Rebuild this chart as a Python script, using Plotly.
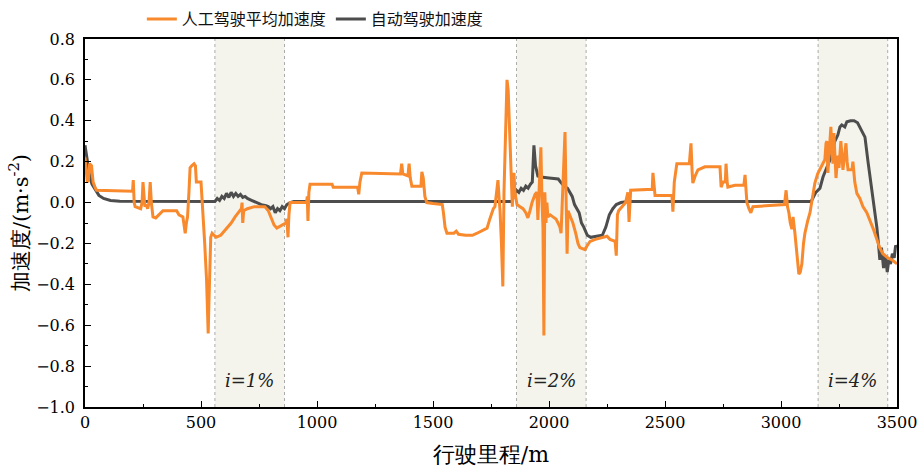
import plotly.graph_objects as go

# ---------------- data ----------------
auto_x = [0, 10, 20, 30, 45, 60, 80, 110, 150, 250, 560, 570, 580, 590, 600, 610, 620, 630, 640, 650,
          660, 670, 680, 690, 700, 720, 740, 760, 780, 790, 800, 810, 820, 830, 840, 850, 860, 870, 885, 900,
          1840, 1850, 1860, 1870, 1880, 1890, 1900, 1910, 1920, 1928, 1935, 1942, 1952, 1965, 2000, 2040,
          2050, 2065, 2080, 2090, 2100, 2110, 2120, 2130, 2140, 2150, 2165, 2180, 2230, 2245, 2260, 2275,
          2290, 2310, 2340, 3130, 3150, 3168, 3181, 3202, 3215, 3232, 3245, 3254, 3262, 3275, 3284, 3300,
          3315, 3330, 3340, 3350, 3362, 3375, 3385, 3396, 3405, 3413, 3420, 3426, 3433, 3442, 3450, 3458,
          3465, 3472, 3480, 3488, 3494, 3500]
auto_y = [0.28, 0.20, 0.13, 0.09, 0.06, 0.035, 0.02, 0.01, 0.006, 0.005, 0.005, 0.02, 0.01, 0.03, 0.02,
          0.045, 0.025, 0.05, 0.03, 0.045, 0.03, 0.04, 0.025, 0.03, 0.02, 0.01, 0.0, -0.01, -0.015, -0.02,
          -0.03, -0.02, -0.05, -0.03, -0.04, -0.02, -0.03, -0.01, 0.0, 0.005,
          0.005, 0.04, 0.06, 0.05, 0.07, 0.06, 0.08, 0.07, 0.09, 0.10, 0.28, 0.18, 0.13, 0.125, 0.12, 0.115,
          0.10, 0.08, 0.07, 0.05, 0.03, -0.01, -0.03, -0.05, -0.10, -0.12, -0.16, -0.17, -0.16, -0.12, -0.06,
          -0.03, -0.01, 0.0, 0.005, 0.005, 0.05, 0.07, 0.125, 0.19, 0.22, 0.30, 0.33, 0.37, 0.38, 0.37, 0.395,
          0.40, 0.40, 0.39, 0.37, 0.35, 0.32, 0.20, 0.12, 0.03, -0.05, -0.12, -0.2, -0.28, -0.22, -0.32,
          -0.26, -0.34, -0.28, -0.30, -0.25, -0.27, -0.21, -0.22]

manual_x = [0, 5, 10, 15, 20, 28, 35, 45, 50, 205, 208, 212, 216, 240, 246, 250, 254, 258, 264, 270, 276,
            281, 286, 293, 305, 320, 336, 395, 405, 422, 428, 432, 437, 442, 448, 453, 460, 470, 476, 480,
            500, 505, 509, 516, 524, 528, 531, 534, 538, 542, 548, 565, 585, 600, 617, 630, 647, 660, 668,
            674, 677, 680, 684, 700, 730, 775, 790, 805, 815, 827, 845, 865, 870, 875, 879, 884, 895, 955,
            958, 961, 965, 970, 1065, 1070, 1175, 1180, 1185, 1193, 1360, 1365, 1370, 1380, 1392, 1397, 1402,
            1409, 1448, 1452, 1458, 1465, 1473, 1500, 1540, 1545, 1552, 1560, 1590, 1600, 1610, 1640, 1670,
            1690, 1710, 1733, 1745, 1760, 1767, 1775, 1780, 1785, 1789, 1795, 1801, 1806, 1812, 1816, 1819,
            1824, 1830, 1836, 1842, 1846, 1849, 1853, 1862, 1875, 1888, 1900, 1909, 1918, 1927, 1940, 1948,
            1952, 1958, 1965, 1970, 1974, 1978, 1982, 1987, 1991, 1995, 2005, 2017, 2030, 2039, 2047, 2052,
            2056, 2062, 2069, 2074, 2078, 2082, 2090, 2103, 2115, 2125, 2133, 2155, 2165, 2177, 2200, 2233,
            2250, 2263, 2285, 2290, 2295, 2300, 2330, 2340, 2345, 2352, 2445, 2448, 2453, 2457, 2530, 2534,
            2540, 2551, 2605, 2612, 2617, 2620, 2630, 2642, 2672, 2737, 2742, 2750, 2760, 2763, 2768, 2771,
            2802, 2840, 2845, 2850, 2853, 2862, 2870, 2879, 2950, 3015, 3022, 3028, 3034, 3040, 3047, 3052,
            3060, 3070, 3077, 3083, 3090, 3097, 3103, 3115, 3125, 3135, 3146, 3158, 3168, 3180, 3189, 3194,
            3198, 3202, 3208, 3215, 3219, 3224, 3228, 3232, 3237, 3245, 3250, 3258, 3263, 3267, 3273, 3280,
            3285, 3289, 3306, 3310, 3318, 3327, 3340, 3353, 3370, 3383, 3398, 3413, 3425, 3439, 3460, 3478,
            3500]
manual_y = [0.22, 0.15, 0.10, 0.11, 0.19, 0.18, 0.10, 0.07, 0.06, 0.055, 0.11, 0.0, -0.02, -0.03, 0.0,
            0.10, 0.0, -0.02, -0.01, -0.03, 0.0, 0.10, 0.0, -0.07, -0.075, -0.06, -0.04, -0.04, -0.06,
            -0.07, -0.11, -0.15, -0.10, -0.07, 0.05, 0.17, 0.18, 0.19, 0.18, 0.10, 0.10, 0.02, -0.07, -0.20,
            -0.38, -0.55, -0.64, -0.50, -0.30, -0.17, -0.15, -0.17, -0.16, -0.14, -0.12, -0.10, -0.07, -0.05,
            -0.04, -0.03, 0.0, -0.10, -0.04, -0.03, -0.02, -0.02, -0.04, -0.085, -0.11, -0.125, -0.115, -0.10,
            -0.08, -0.17, -0.06, 0.0, 0.0, 0.0, 0.03, -0.09, 0.05, 0.09, 0.09, 0.075, 0.075, 0.04, 0.10, 0.145,
            0.14, 0.19, 0.14, 0.135, 0.13, 0.19, 0.12, 0.08, 0.08, 0.15, 0.12, 0.03, 0.0, -0.005, -0.01,
            -0.05, -0.12, -0.15, -0.15, -0.14, -0.155, -0.16, -0.16, -0.15, -0.14, -0.125, -0.08, -0.03,
            -0.02, 0.05, 0.11, 0.02, -0.04, -0.20, -0.41, 0.05, 0.30, 0.55, 0.60, 0.55, 0.37, 0.10, -0.02,
            0.10, 0.145, 0.05, -0.01, -0.02, -0.03, -0.05, -0.075, -0.04, 0.0, 0.04, 0.05, -0.085, 0.10, 0.27,
            0.0, -0.12, -0.65, 0.05, -0.10, 0.0, -0.07, -0.06, -0.07, -0.08, -0.10, -0.12, -0.15, -0.04, 0.10,
            0.345, 0.0, -0.25, -0.04, -0.06, -0.10, -0.15, -0.20, -0.22, -0.23, -0.21, -0.19, -0.18, -0.17,
            -0.165, -0.18, -0.19, -0.26, -0.06, -0.04, 0.0, 0.05, -0.095, 0.06, 0.065, 0.145, 0.05, 0.035,
            0.035, -0.045, 0.10, 0.19, 0.19, 0.29, 0.15, 0.095, 0.13, 0.16, 0.175, 0.175, 0.075, 0.10, 0.10,
            0.19, 0.10, 0.076, 0.085, 0.085, 0.135, 0.07, 0.0, -0.03, -0.05, -0.02, -0.015, -0.01, 0.06,
            -0.02, -0.05, -0.10, -0.13, -0.07, -0.15, -0.25, -0.35, -0.34, -0.30, -0.20, -0.15, -0.09, -0.05,
            0.02, 0.095, 0.14, 0.16, 0.19, 0.21, 0.29, 0.30, 0.145, 0.25, 0.37, 0.26, 0.19, 0.34, 0.20, 0.12,
            0.23, 0.17, 0.30, 0.22, 0.16, 0.22, 0.29, 0.20, 0.16, 0.16, 0.20, 0.10, 0.045, 0.02, -0.02, -0.05,
            -0.085, -0.13, -0.18, -0.22, -0.25, -0.27, -0.28, -0.30]

band_starts = [560, 1860, 3160]
band_ends = [860, 2160, 3460]
band_labels = ["i=1%", "i=2%", "i=4%"]

x_ticks = [0, 500, 1000, 1500, 2000, 2500, 3000, 3500]
y_ticks = [-1.0, -0.8, -0.6, -0.4, -0.2, 0.0, 0.2, 0.4, 0.6, 0.8]

name_manual = "人工驾驶平均加速度"
name_auto = "自动驾驶加速度"

# ---------------- figure ----------------
SERIF = "DejaVu Serif"
fig = go.Figure()
fig.add_trace(go.Scatter(x=auto_x, y=auto_y, mode="lines", name=name_auto,
                         line=dict(color="#4D4D4D", width=3), legendrank=2))
fig.add_trace(go.Scatter(x=manual_x, y=manual_y, mode="lines", name=name_manual,
                         line=dict(color="#F8892C", width=3), legendrank=1))

shapes = []
for s, e in zip(band_starts, band_ends):
    shapes.append(dict(type="rect", xref="x", yref="paper", x0=s, x1=e, y0=0, y1=1,
                       fillcolor="#F4F4EC", line=dict(width=0), layer="below"))
    for v in (s, e):
        shapes.append(dict(type="line", xref="x", yref="paper", x0=v, x1=v, y0=0, y1=1,
                           line=dict(color="#ABABAB", width=1, dash="dot"), layer="below"))

annotations = []
for s, e, t in zip(band_starts, band_ends, band_labels):
    annotations.append(dict(x=(s + e) / 2, y=-0.87, xref="x", yref="y", text="<i>" + t + "</i>",
                            showarrow=False,
                            font=dict(family=SERIF, size=18, color="#222"),
                            xanchor="center", yanchor="middle"))

fig.update_layout(
    width=920, height=471,
    margin=dict(l=85, r=23, t=39, b=64, autoexpand=False),
    paper_bgcolor="white", plot_bgcolor="white",
    shapes=shapes, annotations=annotations,
    font=dict(family=SERIF, color="black"),
    showlegend=True,
    legend=dict(orientation="h", x=0.07, xanchor="left", y=1 - 19 / 471, yref="container",
                yanchor="middle",
                font=dict(family="Noto Sans CJK SC", size=16, color="#111"),
                bgcolor="rgba(0,0,0,0)", itemwidth=30, tracegroupgap=0),
)
fig.update_xaxes(range=[0, 3500], tickvals=x_ticks, ticks="inside", ticklen=6, tickwidth=1.2,
                 tickcolor="black", showline=True, linecolor="black", linewidth=1.5, mirror=True,
                 showgrid=False, zeroline=False,
                 tickfont=dict(family=SERIF, size=16),
                 minor=dict(ticks="inside", ticklen=3.5, tickwidth=1.2, dtick=250, tick0=0,
                            tickcolor="black", showgrid=False),
                 title=dict(text="行驶里程/m", font=dict(family=SERIF, size=22), standoff=16))
fig.update_yaxes(range=[-1.0, 0.8], tickvals=y_ticks, tickformat=".1f", ticks="inside", ticklen=6,
                 tickwidth=1.2, tickcolor="black", showline=True, linecolor="black", linewidth=1.5,
                 mirror=True, showgrid=False, zeroline=False, ticklabelstandoff=5,
                 tickfont=dict(family=SERIF, size=16),
                 minor=dict(ticks="inside", ticklen=3.5, tickwidth=1.2, dtick=0.1, tick0=0,
                            tickcolor="black", showgrid=False),
                 title=dict(text="加速度/(m·s<sup>-2</sup>)", font=dict(family=SERIF, size=21),
                            standoff=2))

fig.write_html("out.html")
